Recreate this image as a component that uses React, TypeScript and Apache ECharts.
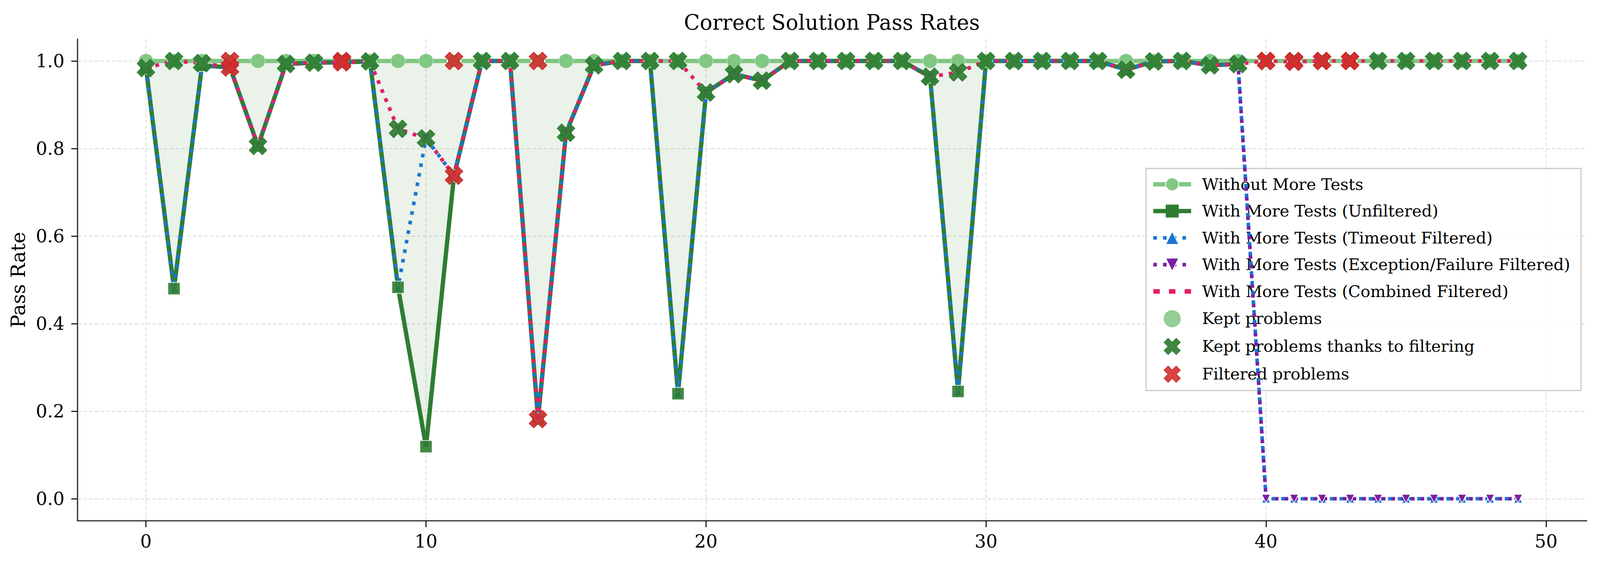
import { useEffect, useRef } from 'react';
import * as echarts from 'echarts';

// problem index on the x axis
const problemIndex = [
  0, 1, 2, 3, 4, 5, 6, 7, 8, 9,
  10, 11, 12, 13, 14, 15, 16, 17, 18, 19,
  20, 21, 22, 23, 24, 25, 26, 27, 28, 29,
  30, 31, 32, 33, 34, 35, 36, 37, 38, 39,
  40, 41, 42, 43, 44, 45, 46, 47, 48, 49,
];

const withoutMoreTests = [
  1.0, 1.0, 1.0, 1.0, 1.0, 1.0, 1.0, 1.0, 1.0, 1.0,
  1.0, 1.0, 1.0, 1.0, 1.0, 1.0, 1.0, 1.0, 1.0, 1.0,
  1.0, 1.0, 1.0, 1.0, 1.0, 1.0, 1.0, 1.0, 1.0, 1.0,
  1.0, 1.0, 1.0, 1.0, 1.0, 1.0, 1.0, 1.0, 1.0, 1.0,
  1.0, 1.0, 1.0, 1.0, 1.0, 1.0, 1.0, 1.0, 1.0, 1.0,
];

const unfiltered = [
  0.984, 0.48, 0.99, 0.985, 0.806, 0.993, 0.996, 0.997, 0.999, 0.483,
  0.119, 0.738, 1.0, 1.0, 0.182, 0.836, 0.99, 1.0, 1.0, 0.24,
  0.928, 0.97, 0.955, 1.0, 1.0, 1.0, 1.0, 1.0, 0.964, 0.245,
  1.0, 1.0, 1.0, 1.0, 1.0, 0.98, 0.999, 1.0, 0.99, 0.993,
  null, null, null, null, null, null, null, null, null, null,
];

const timeoutFiltered = [
  0.984, 0.48, 0.99, 0.985, 0.806, 0.993, 0.996, 0.997, 0.999, 0.483,
  0.823, 0.738, 1.0, 1.0, 0.182, 0.836, 0.99, 1.0, 1.0, 0.24,
  0.928, 0.97, 0.955, 1.0, 1.0, 1.0, 1.0, 1.0, 0.964, 0.245,
  1.0, 1.0, 1.0, 1.0, 1.0, 0.98, 0.999, 1.0, 0.99, 0.993,
  0.0, 0.0, 0.0, 0.0, 0.0, 0.0, 0.0, 0.0, 0.0, 0.0,
];

const exceptionFiltered = [
  0.984, 1.0, 0.995, 0.985, 0.806, 0.993, 0.996, 0.997, 0.999, 0.845,
  0.823, 0.738, 1.0, 1.0, 0.182, 0.836, 0.99, 1.0, 1.0, 1.0,
  0.928, 0.97, 0.955, 1.0, 1.0, 1.0, 1.0, 1.0, 0.964, 0.974,
  1.0, 1.0, 1.0, 1.0, 1.0, 0.98, 0.999, 1.0, 0.99, 0.993,
  0.0, 0.0, 0.0, 0.0, 0.0, 0.0, 0.0, 0.0, 0.0, 0.0,
];

const combinedFiltered = [
  0.984, 1.0, 0.995, 0.985, 0.806, 0.993, 0.996, 0.997, 0.999, 0.845,
  0.823, 0.738, 1.0, 1.0, 0.182, 0.836, 0.99, 1.0, 1.0, 1.0,
  0.928, 0.97, 0.955, 1.0, 1.0, 1.0, 1.0, 1.0, 0.964, 0.974,
  1.0, 1.0, 1.0, 1.0, 1.0, 0.98, 0.999, 1.0, 0.99, 0.993,
  1.0, 0.998, 1.0, 1.0, 1.0, 1.0, 1.0, 1.0, 1.0, 1.0,
];

const filteredProblems = [3, 7, 11, 14, 40, 41, 42, 43];

const xTicks = [0, 10, 20, 30, 40, 50];
const yTicks = [0, 0.2, 0.4, 0.6, 0.8, 1.0];

const FONT = '"DejaVu Serif", serif';
const X_SYMBOL = 'path://M3 0L4 1L3 2L4 3L3 4L2 3L1 4L0 3L1 2L0 1L1 0L2 1Z';
const DASHES_ICON = 'path://M0 0h14v10H0z M34 0h14v10H34z M68 0h14v10H68z';

export default function App() {
  const chartRef = useRef<HTMLDivElement>(null);

  useEffect(() => {
    document.body.style.margin = '0';
    if (!chartRef.current) return;
    const el = chartRef.current;
    // layout is measured on a 4445 x 1443 page; scale to the real viewport
    const kx = el.clientWidth / 4445;
    const ky = el.clientHeight / 1443;
    const p = (v: number) => v * kx;
    const q = (v: number) => v * ky;
    const chart = echarts.init(el, null, { renderer: 'svg' });

    const dotted = [p(10), p(17)];
    const pairs = (ys: (number | null)[]) => problemIndex.map((x, i) => [x, ys[i]]);
    const kept = problemIndex.filter(i => !filteredProblems.includes(i));
    const keptCircles = kept.map(i => [i, withoutMoreTests[i]]);
    const keptCrosses = kept.map(i => [i, combinedFiltered[i]]);
    const filteredCrosses = [
      ...filteredProblems.map(i => [i, withoutMoreTests[i]]),
      ...filteredProblems.map(i => [i, combinedFiltered[i]]),
    ];

    const option = {
      animation: false,
      backgroundColor: '#fff',
      textStyle: { fontFamily: FONT },
      graphic: [
        {
          type: 'text',
          x: p(2311),
          y: q(57),
          style: {
            text: 'Correct Solution Pass Rates',
            fontSize: p(58),
            fontFamily: FONT,
            fill: '#000',
            align: 'center',
            verticalAlign: 'middle',
          },
        },
      ],
      grid: { left: p(215), right: p(37), top: q(100), bottom: q(111) },
      legend: {
        orient: 'vertical',
        left: p(3184),
        top: q(431),
        selectedMode: false,
        itemWidth: p(105),
        itemHeight: p(45),
        itemGap: q(69) - p(45),
        padding: [q(20), p(30), q(20), p(14)],
        backgroundColor: 'rgba(255,255,255,0.8)',
        borderColor: '#c8c8c8',
        borderWidth: p(3),
        textStyle: { fontSize: p(45), fontFamily: FONT, color: '#000', padding: [0, 0, 0, p(25)] },
        data: [
          { name: 'Without More Tests', lineStyle: { width: p(12) } },
          { name: 'With More Tests (Unfiltered)', lineStyle: { width: p(12) } },
          { name: 'With More Tests (Timeout Filtered)', lineStyle: { width: p(10) } },
          { name: 'With More Tests (Exception/Failure Filtered)', lineStyle: { width: p(10) } },
          { name: 'With More Tests (Combined Filtered)', icon: DASHES_ICON },
          { name: 'Kept problems' },
          { name: 'Kept problems thanks to filtering' },
          { name: 'Filtered problems' },
        ],
      },
      xAxis: {
        type: 'value',
        min: -2.45,
        max: 51.45,
        axisLine: { show: true, onZero: false, lineStyle: { color: '#333', width: p(3.5) } },
        axisTick: { show: true, customValues: xTicks, length: q(17), lineStyle: { color: '#111', width: p(3) } },
        axisLabel: { customValues: xTicks, fontSize: p(50), fontFamily: FONT, color: '#000', margin: q(30) },
        splitLine: { show: true, lineStyle: { color: '#e4e4e4', width: p(3), type: [p(10), p(6)] } },
      },
      yAxis: {
        type: 'value',
        min: -0.05,
        max: 1.05,
        name: 'Pass Rate',
        nameLocation: 'middle',
        nameRotate: 90,
        nameGap: p(137),
        nameTextStyle: { fontSize: p(54), fontFamily: FONT, color: '#000' },
        axisLine: { show: true, onZero: false, lineStyle: { color: '#333', width: p(3.5) } },
        axisTick: { show: true, customValues: yTicks, length: p(17), lineStyle: { color: '#111', width: p(3) } },
        axisLabel: {
          customValues: yTicks,
          fontSize: p(50),
          fontFamily: FONT,
          color: '#000',
          margin: p(36),
          formatter: (v: number) => v.toFixed(1),
        },
        splitLine: { show: true, lineStyle: { color: '#e4e4e4', width: p(3), type: [p(10), p(6)] } },
      },
      series: [
        {
          // shaded gap between "without" and "unfiltered"
          name: 'gap-fill',
          type: 'custom',
          silent: true,
          z: 1,
          data: [[0, 0]],
          renderItem: (_params: any, api: any) => {
            const top: number[][] = [];
            const bottom: number[][] = [];
            problemIndex.forEach((x, i) => {
              if (unfiltered[i] == null) return;
              top.push(api.coord([x, withoutMoreTests[i]]));
              bottom.push(api.coord([x, unfiltered[i]]));
            });
            return {
              type: 'polygon',
              shape: { points: [...top, ...bottom.reverse()] },
              style: { fill: 'rgba(46,125,50,0.1)' },
            };
          },
        },
        {
          name: 'Without More Tests',
          type: 'line',
          data: pairs(withoutMoreTests),
          color: '#81c784',
          lineStyle: { color: '#81c784', width: p(12) },
          symbol: 'circle',
          symbolSize: p(38),
          itemStyle: { color: '#81c784', borderColor: '#fff', borderWidth: p(3) },
          z: 2,
        },
        {
          // markers are drawn by the scatter below so they sit over the triangles
          name: 'With More Tests (Unfiltered)',
          type: 'line',
          data: pairs(unfiltered),
          color: '#2e7d32',
          lineStyle: { color: '#2e7d32', width: p(12) },
          symbol: 'rect',
          showSymbol: false,
          itemStyle: { color: '#2e7d32' },
          z: 3,
        },
        {
          name: 'With More Tests (Timeout Filtered)',
          type: 'line',
          data: pairs(timeoutFiltered),
          color: '#1976d2',
          lineStyle: { color: '#1976d2', width: p(10), type: dotted, cap: 'butt' },
          symbol: 'triangle',
          symbolSize: p(24),
          itemStyle: { color: '#1976d2', borderColor: '#fff', borderWidth: p(2) },
          z: 4,
        },
        {
          name: 'unfiltered-markers',
          type: 'scatter',
          data: pairs(unfiltered),
          symbol: 'rect',
          symbolSize: p(34),
          itemStyle: { color: '#2e7d32', opacity: 0.9, borderColor: '#fff', borderWidth: p(2) },
          z: 4,
        },
        {
          name: 'With More Tests (Exception/Failure Filtered)',
          type: 'line',
          data: pairs(exceptionFiltered),
          color: '#7b1fa2',
          lineStyle: { color: '#7b1fa2', width: p(10), type: dotted, cap: 'butt' },
          symbol: 'triangle',
          symbolRotate: 180,
          symbolSize: p(24),
          itemStyle: { color: '#7b1fa2', borderColor: '#fff', borderWidth: p(2) },
          z: 5,
        },
        {
          name: 'With More Tests (Combined Filtered)',
          type: 'line',
          data: pairs(combinedFiltered),
          color: '#e91e63',
          lineStyle: { color: '#e91e63', width: p(10), type: dotted, cap: 'butt' },
          itemStyle: { color: '#e91e63' },
          symbol: 'none',
          z: 6,
        },
        {
          name: 'Kept problems',
          type: 'scatter',
          data: keptCircles,
          symbol: 'circle',
          symbolSize: p(38),
          itemStyle: { color: '#81c784', opacity: 0.85, borderColor: '#81c784', borderWidth: p(2) },
          z: 7,
        },
        {
          name: 'Kept problems thanks to filtering',
          type: 'scatter',
          data: keptCrosses,
          symbol: X_SYMBOL,
          symbolSize: p(48),
          itemStyle: { color: '#2e7d32', opacity: 0.92, borderColor: '#2e7d32', borderWidth: p(3) },
          z: 8,
        },
        {
          name: 'Filtered problems',
          type: 'scatter',
          data: filteredCrosses,
          symbol: X_SYMBOL,
          symbolSize: p(48),
          itemStyle: { color: '#d32f2f', opacity: 0.9, borderColor: '#c62828', borderWidth: p(3) },
          z: 9,
        },
      ],
    };

    chart.setOption(option);

    return () => {
      chart.dispose();
    };
  }, []);

  return <div ref={chartRef} style={{ width: '100vw', height: '100vh' }} />;
}
